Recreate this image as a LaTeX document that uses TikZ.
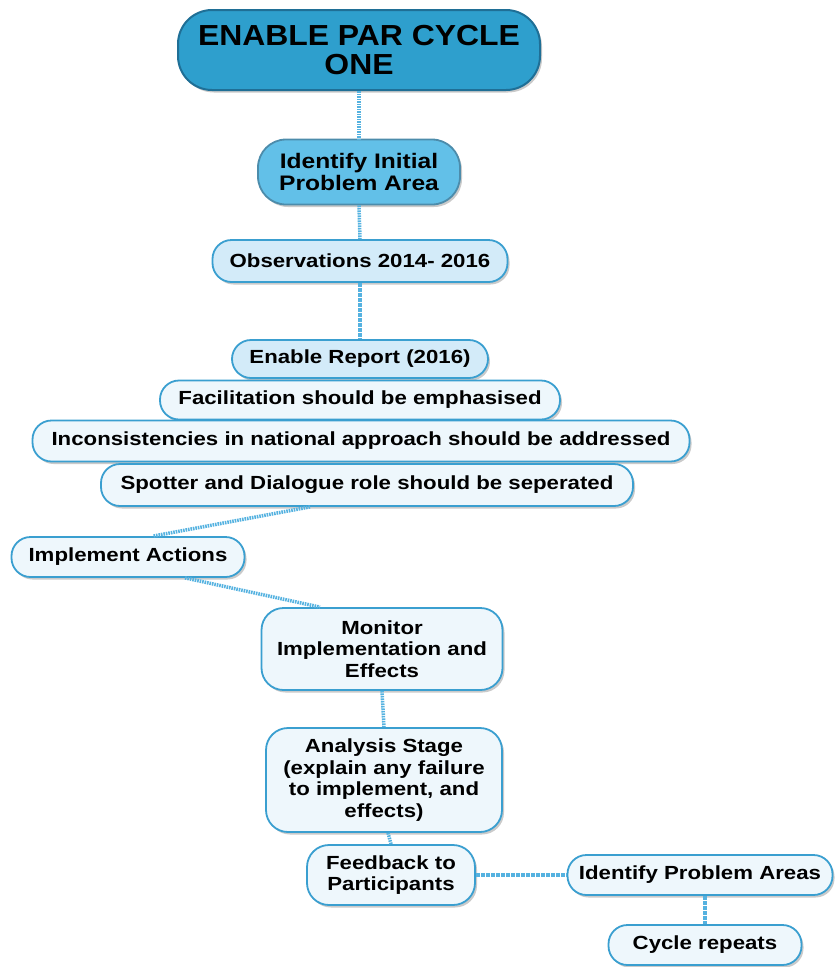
\documentclass[tikz,border=0pt]{standalone}
\usepackage{fontspec}
\setmainfont{Liberation Sans}
\newfontfamily\boxfont[FakeStretch=1.17]{Liberation Sans}
\newfontfamily\titlefont[FakeStretch=1.1]{Liberation Sans}
\usetikzlibrary{shadows}
\definecolor{linkblue}{HTML}{55B2E0}
\definecolor{edgeblue}{HTML}{3A9FD0}
\definecolor{titlefill}{HTML}{2E9FCD}
\definecolor{titleedge}{HTML}{1F6F96}
\definecolor{midfill}{HTML}{62C0E8}
\definecolor{softfill}{HTML}{D3EBF9}
\definecolor{palefill}{HTML}{EEF7FC}
\tikzset{
  box/.style={draw=edgeblue, line width=1.8pt, fill=palefill, align=center,
    font=\boxfont\bfseries\fontsize{19}{21}\selectfont, inner sep=0pt,
    drop shadow={shadow xshift=2pt, shadow yshift=-2.5pt, opacity=0.35, fill=black!60}},
  capsule/.style={box, rounded corners=19pt},
  block/.style={box, rounded corners=22pt, font=\boxfont\bfseries\fontsize{19}{21.5}\selectfont},
  link/.style={draw=linkblue, line width=3.5pt, dash pattern=on 1.6pt off 0.9pt}
}
\begin{document}
\begin{tikzpicture}[x=1pt,y=-1pt]
\useasboundingbox (0,0) rectangle (836,967);

% nodes, from the top of the cycle down
\node[box, rounded corners=34pt, fill=titlefill, draw=titleedge, line width=2pt,
  minimum width=362pt, minimum height=80pt,
  font=\titlefont\bfseries\fontsize{29}{28.5}\selectfont] (title) at (359,50) {ENABLE PAR CYCLE\\ONE};
\node[box, rounded corners=28pt, fill=midfill, draw=titleedge!80, minimum width=202pt, minimum height=65pt,
  font=\boxfont\bfseries\fontsize{21}{22}\selectfont] (initial) at (359,172) {Identify Initial\\Problem Area};
\node[capsule, fill=softfill, minimum width=295pt, minimum height=42pt] (obs) at (360,261) {Observations 2014- 2016};
\node[capsule, fill=softfill, minimum width=256pt, minimum height=38pt] (report) at (360,359) {Enable Report (2016)};
\node[capsule, minimum width=400pt, minimum height=39pt] (facil) at (360,400) {Facilitation should be emphasised};
\node[capsule, minimum width=657pt, minimum height=41pt] (incons) at (361,441) {Inconsistencies in national approach should be addressed};
\node[capsule, minimum width=532pt, minimum height=42pt] (spot) at (367,485) {Spotter and Dialogue role should be seperated};
\node[capsule, minimum width=233pt, minimum height=40pt] (impl) at (128,557) {Implement Actions};
\node[block, minimum width=241pt, minimum height=82pt] (monitor) at (382,649) {Monitor\\Implementation and\\Effects};
\node[block, minimum width=236pt, minimum height=104pt] (analysis) at (384,780) {Analysis Stage\\(explain any failure\\to implement, and\\effects)};
\node[block, minimum width=168pt, minimum height=60pt] (feedback) at (391,875) {Feedback to\\Participants};
\node[capsule, minimum width=265pt, minimum height=40pt] (areas) at (700,875) {Identify Problem Areas};
\node[capsule, minimum width=193pt, minimum height=40pt] (repeat) at (705,945) {Cycle repeats};

% dotted connectors between the stages
\path[link] (title.south) -- (initial.north);
\path[link] (initial.south) -- (obs.north);
\path[link] (obs.south) -- (report.north);
\path[link] ([xshift=-57pt]spot.south) -- ([xshift=25pt]impl.north);
\path[link] ([xshift=57pt]impl.south) -- ([xshift=-62pt]monitor.north);
\path[link] (monitor.south) -- (analysis.north);
\path[link] ([xshift=4pt]analysis.south) -- (feedback.north);
\path[link] (feedback.east) -- (areas.west);
\path[link] ([xshift=5pt]areas.south) -- (repeat.north);
\end{tikzpicture}
\end{document}
